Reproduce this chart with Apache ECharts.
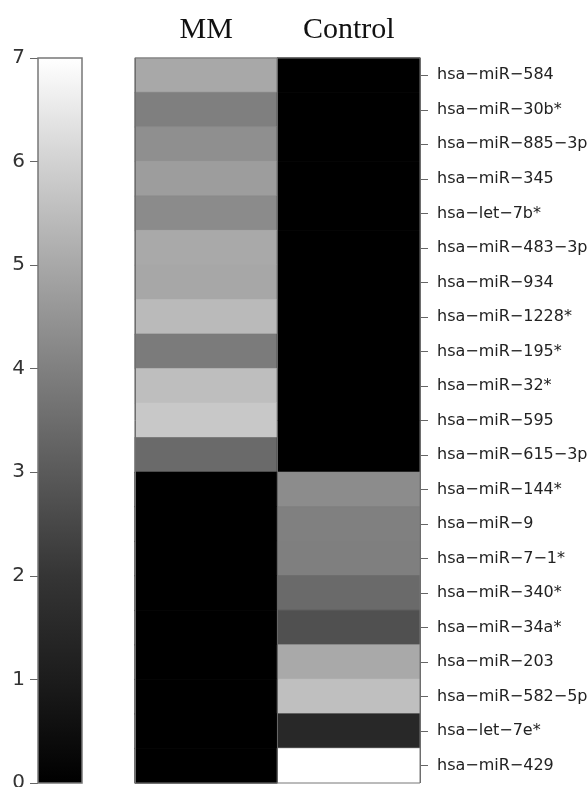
<!DOCTYPE html>
<html>
<head>
<meta charset="utf-8">
<script src="https://cdn.jsdelivr.net/npm/echarts@6/dist/echarts.min.js"></script>
<style>html,body{margin:0;padding:0;background:#fff}#c{width:587px;height:787px}</style>
</head>
<body>
<div id="c"></div>
<script>
const genes = ['hsa−miR−584','hsa−miR−30b*','hsa−miR−885−3p','hsa−miR−345','hsa−let−7b*','hsa−miR−483−3p','hsa−miR−934','hsa−miR−1228*','hsa−miR−195*','hsa−miR−32*','hsa−miR−595','hsa−miR−615−3p','hsa−miR−144*','hsa−miR−9','hsa−miR−7−1*','hsa−miR−340*','hsa−miR−34a*','hsa−miR−203','hsa−miR−582−5p','hsa−let−7e*','hsa−miR−429'];
const groups = ['MM','Control'];
const mmValues = [5.00,3.97,4.38,4.72,4.28,5.03,4.98,5.43,3.87,5.53,5.75,3.42,0,0,0,0,0,0,0,0,0];
const controlValues = [0,0,0,0,0,0,0,0,0,0,0,0,4.30,4.00,3.97,3.42,2.73,5.03,5.55,1.48,7];
const scaleMin = 0;
const scaleMax = 7;
const colorbarValue = [7];

// grey palette, one stop per unit of the scale (0..7)
const palette = ['#000000','#1c1c1c','#353535','#5a5a5a','#808080','#a8a8a8','#d2d2d2','#ffffff'];

function colorFor(v){
  const t = (v - scaleMin) / (scaleMax - scaleMin) * (palette.length - 1);
  const i = Math.max(0, Math.min(palette.length - 2, Math.floor(t)));
  const f = t - i;
  const a = parseInt(palette[i].slice(1,3),16), b = parseInt(palette[i+1].slice(1,3),16);
  const g = Math.round(a + (b - a) * f);
  const h = g.toString(16).padStart(2,'0');
  return '#' + h + h + h;
}

const cells = [];
genes.forEach((g,i)=>{
  [mmValues[i], controlValues[i]].forEach((v,j)=>{
    cells.push({value:[j,i,v], itemStyle:{borderColor:colorFor(v), borderWidth:0.6}});
  });
});

const chart = echarts.init(document.getElementById('c'));
chart.setOption({
  animation:false,
  grid:[
    {left:135, top:58, width:285, height:725, outerBoundsMode:'none', containLabel:false, show:true, borderColor:'#777', borderWidth:1, z:10, backgroundColor:'transparent'},
    {left:38, top:58, width:44, height:725, outerBoundsMode:'none', containLabel:false, show:true, borderColor:'#777', borderWidth:1.5, z:10, backgroundColor:'transparent'}
  ],
  xAxis:[
    {type:'category', gridIndex:0, data:groups, position:'top', z:5,
     axisLine:{show:false}, axisTick:{show:false},
     splitLine:{show:true, lineStyle:{color:'#666', width:1}},
     axisLabel:{fontFamily:'Liberation Serif', fontSize:30, color:'#111', margin:13}},
    {type:'category', gridIndex:1, data:['scale'], show:false}
  ],
  yAxis:[
    {type:'category', gridIndex:0, data:genes, inverse:true, position:'right',
     axisLine:{show:false},
     axisTick:{show:true, alignWithLabel:true, length:8, lineStyle:{color:'#666', width:1}},
     splitLine:{show:false},
     axisLabel:{fontFamily:'DejaVu Sans', fontSize:16, color:'#222', margin:17}},
    {type:'value', gridIndex:1, min:scaleMin, max:scaleMax, interval:1, position:'left',
     axisLine:{show:false},
     axisTick:{show:true, length:8, lineStyle:{color:'#666', width:1}},
     splitLine:{show:false},
     axisLabel:{fontFamily:'DejaVu Sans', fontSize:20, color:'#333', margin:13}}
  ],
  visualMap:{show:false, seriesIndex:0, min:scaleMin, max:scaleMax, inRange:{color:palette}},
  series:[
    {type:'heatmap', xAxisIndex:0, yAxisIndex:0, data:cells},
    {type:'bar', xAxisIndex:1, yAxisIndex:1, data:colorbarValue, barWidth:'100%',
     itemStyle:{color:{type:'linear', x:0, y:1, x2:0, y2:0,
       colorStops:palette.map((c,i)=>({offset:i/(palette.length-1), color:c}))}}}
  ]
});
</script>
</body>
</html>
